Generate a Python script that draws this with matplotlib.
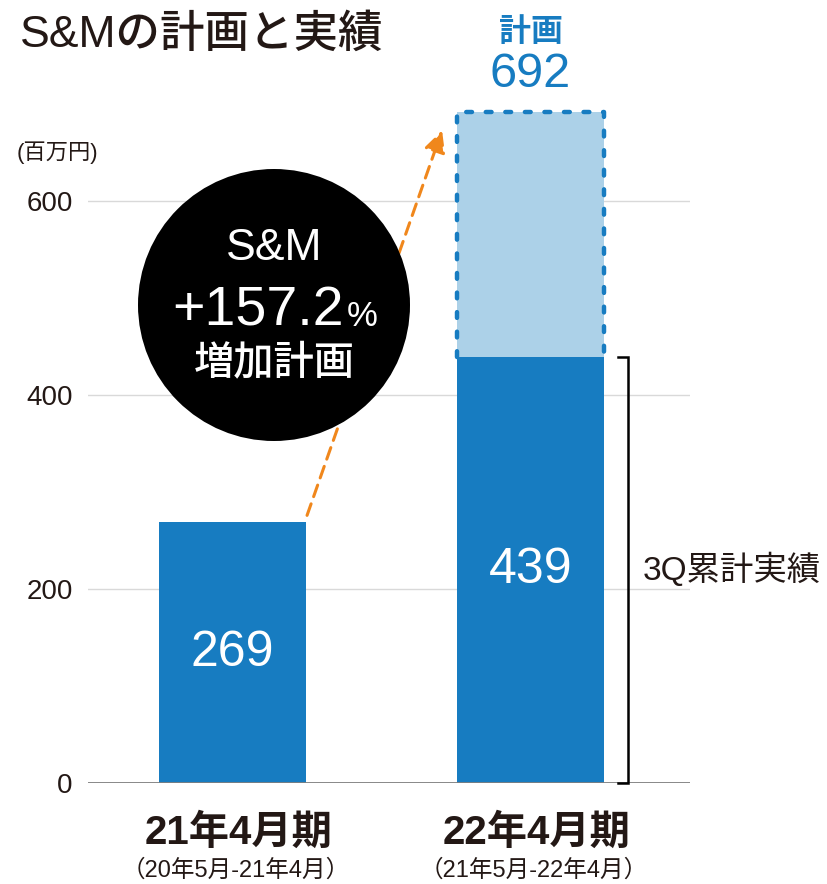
import matplotlib
matplotlib.use("Agg")
import matplotlib.pyplot as plt
from matplotlib.patches import Ellipse

plt.rcParams['font.family'] = ['Liberation Sans', 'Noto Sans CJK JP', 'DejaVu Sans']

# ---- data ----
periods = ["21年4月期", "22年4月期"]
period_ranges = ["（20年5月-21年4月）", "（21年5月-22年4月）"]
actual = [269, 439]
plan_value = 692
yticks = [0, 200, 400, 600]
unit_label = "(百万円)"
title = "S&Mの計画と実績"
growth_label = "+157.2"
bracket_label = "3Q累計実績"

DARK = "#177cc1"
LIGHT = "#acd1e8"
ORANGE = "#f0871c"
TXT = "#231815"

W, H = 827, 884
fig = plt.figure(figsize=(W / 100, H / 100), dpi=100)
ax = fig.add_axes([88 / W, (H - 783) / H, 602 / W, 671 / H])

def fx(px):
    return px / W

def fy(py):
    return 1 - py / H

xs = [0, 1]
bw = 0.493
ax.set_xlim(-0.485, 1.535)
ax.set_ylim(0, plan_value)

# grid
for t in yticks[1:]:
    ax.axhline(t, color="#d9d9d9", lw=1, zorder=0)
ax.axhline(0, color="#7f7f7f", lw=1.3, zorder=3)

# bars
ax.bar(xs, actual, width=bw, color=DARK, zorder=2)
ax.bar(xs[1], plan_value - actual[1], bottom=actual[1], width=bw, color=LIGHT, zorder=2)

# dotted outline of plan
x0 = xs[1] - bw / 2
x1 = xs[1] + bw / 2
ax.plot([x0, x0, x1, x1], [actual[1], plan_value, plan_value, actual[1]],
        color=DARK, lw=3.2, linestyle=(0, (1.3, 3.1)), dash_capstyle='round',
        solid_capstyle='round', clip_on=False, zorder=4)

# value labels
for x, v in zip(xs, actual):
    ax.text(x, v / 2, f"{v}", color="white", fontsize=36, ha="center", va="center", zorder=5)

ax.annotate(f"{plan_value}", xy=(xs[1], plan_value), xytext=(0, 27), textcoords="offset points",
            ha="center", va="center", fontsize=35, color=DARK, annotation_clip=False)
ax.annotate("計画", xy=(xs[1], plan_value), xytext=(0, 57), textcoords="offset points",
            ha="center", va="center", fontsize=23, color=DARK, fontweight="bold",
            annotation_clip=False)

# bracket
bx = 1.327
tick = 0.034
ax.plot([bx - tick, bx, bx, bx - tick], [actual[1], actual[1], 0, 0], color="black", lw=1.8,
        clip_on=False, zorder=4, solid_joinstyle='miter')
ax.text(bx + 0.05, actual[1] / 2, bracket_label, fontsize=24, color=TXT, ha="left", va="center",
        clip_on=False)

# dashed arrow
ax.annotate("", xy=(0.703, 673), xytext=(0.25, 276),
            arrowprops=dict(arrowstyle="-|>,head_length=1.3,head_width=0.65", color=ORANGE,
                            lw=2.2, linestyle=(0, (4, 2.5)), shrinkA=0, shrinkB=0),
            zorder=1, annotation_clip=False)

# axes styling
for s in ax.spines.values():
    s.set_visible(False)
ax.set_yticks(yticks)
ax.set_yticklabels([str(t) for t in yticks], fontsize=20, color=TXT)
ax.tick_params(axis="y", length=0, pad=11)
ax.set_xticks([])

# x labels
for x, p, r in zip(xs, periods, period_ranges):
    ax.text(x + 0.02, -0.0745, p, transform=ax.get_xaxis_transform(), ha="center", va="center",
            fontsize=29, fontweight="bold", color=TXT)
    ax.text(x + 0.01, -0.131, r, transform=ax.get_xaxis_transform(), ha="center", va="center",
            fontsize=17, color=TXT)

# circle callout
circ = Ellipse((fx(274), fy(305)), 272 / W, 272 / H, transform=fig.transFigure,
               facecolor="black", edgecolor="none", zorder=6, clip_on=False)
ax.add_patch(circ)
fig.text(fx(274), fy(248), "S&M", color="white", fontsize=32, ha="center", va="center", zorder=7)
fig.text(fx(344), fy(326), growth_label, color="white", fontsize=40, ha="right", va="baseline", zorder=7)
fig.text(fx(347), fy(326), "%", color="white", fontsize=25, ha="left", va="baseline", zorder=7)
fig.text(fx(274), fy(363), "増加計画", color="white", fontsize=29, ha="center", va="center",
         fontweight="medium", zorder=7)

# title and unit
fig.text(fx(20), fy(35), title, fontsize=32, color=TXT, ha="left", va="center", fontweight="medium")
fig.text(fx(17), fy(153), unit_label, fontsize=16, color=TXT, ha="left", va="center")

fig.savefig("out.png", dpi=100)
